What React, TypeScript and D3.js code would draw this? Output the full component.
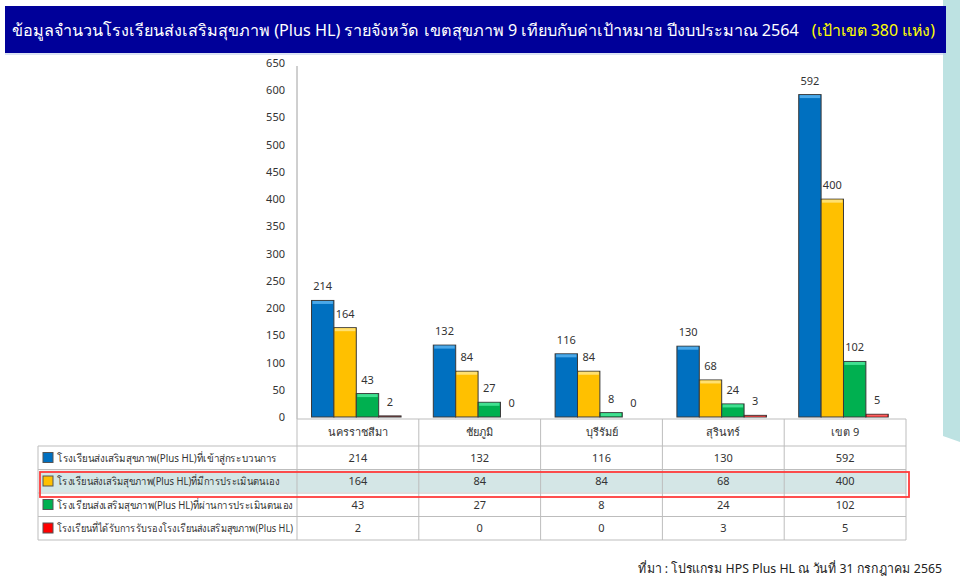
import React, { useLayoutEffect, useRef, useState } from "react";
import * as d3 from "d3";

const categories = ["นครราชสีมา", "ชัยภูมิ", "บุรีรัมย์", "สุรินทร์", "เขต 9"];
const seriesNames = [
  "โรงเรียนส่งเสริมสุขภาพ(Plus HL)ที่เข้าสู่กระบวนการ",
  "โรงเรียนส่งเสริมสุขภาพ(Plus HL)ที่มีการประเมินตนเอง",
  "โรงเรียนส่งเสริมสุขภาพ(Plus HL)ที่ผ่านการประเมินตนเอง",
  "โรงเรียนที่ได้รับการรับรองโรงเรียนส่งเสริมสุขภาพ(Plus HL)",
];
const enteredProcess = [214, 132, 116, 130, 592];
const selfAssessed = [164, 84, 84, 68, 400];
const passedSelfAssessment = [43, 27, 8, 24, 102];
const certified = [2, 0, 0, 3, 5];
const seriesValues = [enteredProcess, selfAssessed, passedSelfAssessment, certified];
const seriesColors = ["#0070c0", "#ffc000", "#00b050", "#ff0000"];
const seriesHighlights = ["#4aa8e8", "#ffe070", "#40e090", "#ff6060"];
const yTicks = [0, 50, 100, 150, 200, 250, 300, 350, 400, 450, 500, 550, 600, 650];

const titleMain =
  "ข้อมูลจำนวนโรงเรียนส่งเสริมสุขภาพ (Plus HL) รายจังหวัด เขตสุขภาพ 9 เทียบกับค่าเป้าหมาย ปีงบประมาณ 2564";
const titleTarget = "(เป้าเขต 380 แห่ง)";
const sourceText = "ที่มา : โปรแกรม HPS Plus HL  ณ วันที่ 31 กรกฎาคม 2565";

const FONT = "Tahoma, 'Noto Sans', 'DejaVu Sans', sans-serif";

export default function App() {
  const W = 960;
  const H = 588;
  const plotLeft = 297;
  const plotRight = 906;
  const baseY = 417;
  const topY = 63;

  const mainRef = useRef<SVGTextElement>(null);
  const targetRef = useRef<SVGTextElement>(null);
  const [mainSize, setMainSize] = useState(19);
  const [targetSize, setTargetSize] = useState(19);

  useLayoutEffect(() => {
    if (mainRef.current) {
      const len = mainRef.current.getComputedTextLength();
      if (len > 0) setMainSize((s) => Math.min(19, (s * 786) / len));
    }
    if (targetRef.current) {
      const len = targetRef.current.getComputedTextLength();
      if (len > 0) setTargetSize((s) => Math.min(19, (s * 124) / len));
    }
  }, []);

  const x0 = d3.scaleBand<string>().domain(categories).range([plotLeft, plotRight]).paddingInner(0).paddingOuter(0);
  const x1 = d3
    .scaleBand<number>()
    .domain([0, 1, 2, 3])
    .range([0, x0.bandwidth()])
    .paddingInner(0)
    .paddingOuter(0.72)
    .align(0.45);
  const y = d3.scaleLinear().domain([0, 650]).range([baseY, topY]);

  const tableTop = 419;
  const headerBottom = 446;
  const rowH = 23.5;
  const labelLeft = 38;
  const rowTops = seriesNames.map((_, i) => headerBottom + i * rowH);
  const tableBottom = headerBottom + 4 * rowH;

  return (
    <svg width={W} height={H} style={{ position: "absolute", left: 0, top: 0, background: "#fff" }} fontFamily={FONT}>
      <rect x={0} y={0} width={W} height={H} fill="#ffffff" />
      {/* right teal strip */}
      <polygon points={`943,0 960,0 960,442 943,436`} fill="#bde2e2" />
      {/* title banner */}
      <rect x={5} y={6} width={941} height={47} fill="#000099" />
      <line x1={5} y1={54} x2={946} y2={54} stroke="#b8c8e8" strokeWidth={1} />
      <text ref={mainRef} x={12} y={36} fill="#ffffff" fontSize={mainSize}>
        {titleMain}
      </text>
      <text ref={targetRef} x={935} y={36} fill="#ffff00" fontSize={targetSize} textAnchor="end">
        {titleTarget}
      </text>

      {/* y axis */}
      <line x1={plotLeft} y1={66} x2={plotLeft} y2={baseY + 2} stroke="#a0a0a0" strokeWidth={1} />
      {yTicks.map((t) => (
        <text key={t} x={285} y={y(t) + 4} textAnchor="end" fontSize={11} fill="#333">
          {t}
        </text>
      ))}

      {/* bars */}
      {categories.map((c, ci) => (
        <g key={c} transform={`translate(${x0(c)},0)`}>
          {seriesValues.map((vals, si) => {
            const v = vals[ci];
            const bx = x1(si)!;
            const bw = x1.bandwidth();
            const top = y(v);
            const h = baseY - top;
            return (
              <g key={si}>
                {v > 0 && (
                  <>
                    <rect x={bx} y={top} width={bw} height={h} fill={seriesColors[si]} stroke="#3a3a3a" strokeWidth={1} />
                    <rect x={bx + 1} y={top + 0.5} width={bw - 2} height={Math.min(3, h - 1)} fill={seriesHighlights[si]} />
                  </>
                )}
                <text x={bx + bw / 2} y={top - 10} textAnchor="middle" fontSize={11} fill="#333">
                  {v}
                </text>
              </g>
            );
          })}
        </g>
      ))}

      {/* table */}
      <g>
        <rect x={labelLeft + 2} y={rowTops[1] + 1} width={plotRight - labelLeft - 2} height={rowH - 2} fill="#d4e6e6" />
        <line x1={plotLeft} y1={tableTop} x2={plotRight} y2={tableTop} stroke="#bdbdbd" />
        {[headerBottom, ...rowTops.slice(1), tableBottom].map((yy, i) => (
          <line key={i} x1={labelLeft} y1={yy} x2={plotRight} y2={yy} stroke="#bdbdbd" />
        ))}
        <line x1={labelLeft} y1={headerBottom} x2={labelLeft} y2={tableBottom} stroke="#bdbdbd" />
        {categories.map((c) => (
          <line key={c} x1={x0(c)!} y1={tableTop} x2={x0(c)!} y2={tableBottom} stroke="#bdbdbd" />
        ))}
        <line x1={plotRight} y1={tableTop} x2={plotRight} y2={tableBottom} stroke="#bdbdbd" />
        {categories.map((c) => (
          <text key={c} x={x0(c)! + x0.bandwidth() / 2} y={436} textAnchor="middle" fontSize={11} fill="#333">
            {c}
          </text>
        ))}
        {seriesNames.map((name, si) => (
          <g key={si}>
            <rect x={43} y={rowTops[si] + 6.5} width={10} height={10} fill={seriesColors[si]} stroke="#555" strokeWidth={1} />
            <text x={57} y={rowTops[si] + 15.5} fontSize={10.5} fill="#333" textLength={si === 0 ? 220 : si === 1 ? 222 : 236} lengthAdjust="spacingAndGlyphs">
              {name}
            </text>
            {categories.map((c, ci) => (
              <text key={c} x={x0(c)! + x0.bandwidth() / 2} y={rowTops[si] + 15.5} textAnchor="middle" fontSize={11} fill="#333">
                {seriesValues[si][ci]}
              </text>
            ))}
          </g>
        ))}
        <rect x={40} y={472} width={869} height={25} fill="none" stroke="#ff3b3b" strokeWidth={1.8} />
      </g>

      {/* source */}
      <text x={942} y={573} textAnchor="end" fontSize={13} fill="#222" textLength={304} lengthAdjust="spacingAndGlyphs">
        {sourceText}
      </text>
    </svg>
  );
}
